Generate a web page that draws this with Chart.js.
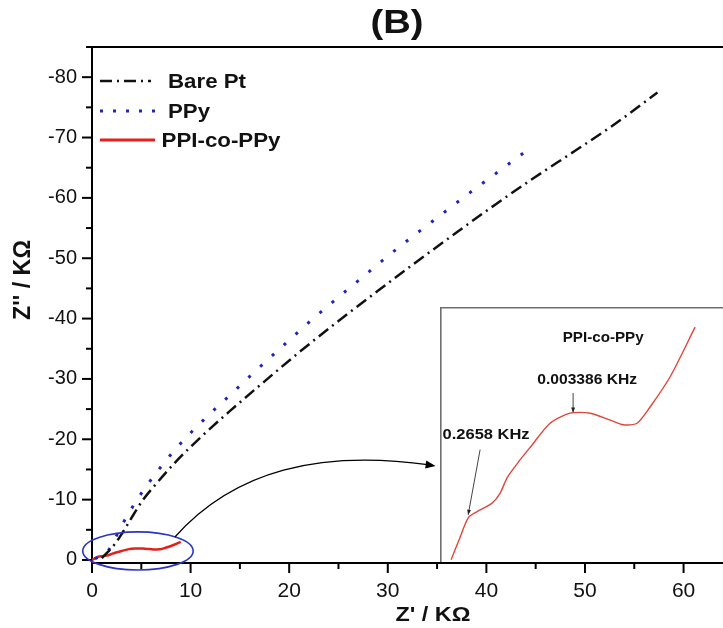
<!DOCTYPE html>
<html>
<head>
<meta charset="utf-8">
<script src="https://cdn.jsdelivr.net/npm/chart.js@4"></script>
<style>
html, body { margin: 0; padding: 0; background: #fff; }
#wrap { position: relative; width: 723px; height: 628px; }
#main { position: absolute; left: 0; top: 0; }
#inset { position: absolute; left: 440px; top: 307px; }
</style>
</head>
<body>
<div id="wrap">
<canvas id="main" width="723" height="628"></canvas>
<canvas id="inset" width="283" height="255"></canvas>
</div>
<script>
// values: Z' (KOhm) and Z'' (KOhm)
const bareX = [1.0, 2.3, 3.2, 4.2, 5.1, 6.5, 8.4, 11, 14, 17.5, 21, 25, 29, 33, 37, 41, 45, 49, 53, 57.35];
const bareY = [-0.3, -2.6, -4.8, -7.5, -9.8, -12.6, -16.1, -20.3, -24.7, -29.6, -34.4, -39.6, -44.6, -49.5, -54.3, -59.0, -63.5, -67.8, -72.2, -77.45];

const ppyX = [0.3, 1.62, 3.04, 4.66, 6.59, 8.71, 11.25, 13.98, 16.51, 19.25, 21.88, 24.52, 27.25, 29.89, 32.52, 35.16, 37.79, 40.43, 43.16, 44.48];
const ppyY = [-0.2, -1.5, -5.8, -10.2, -14.6, -18.8, -23.1, -27.3, -31.2, -35.3, -39.2, -42.9, -46.6, -50.2, -53.6, -56.9, -60.2, -63.4, -66.7, -68.3];

const ppiX = [0, 0.30, 0.63, 0.96, 1.51, 1.81, 2.07, 2.55, 2.92, 3.65, 4.39, 5.13, 5.87, 6.35, 6.86, 7.34, 8.08, 9.0];
const ppiY = [0, -0.26, -0.54, -0.62, -0.73, -0.86, -1.06, -1.29, -1.45, -1.76, -1.89, -1.89, -1.80, -1.74, -1.76, -1.97, -2.36, -3.0];

const xTicks = [0, 10, 20, 30, 40, 50, 60];
const yTicks = [0, -10, -20, -30, -40, -50, -60, -70, -80];

const seriesNames = ['Bare Pt', 'PPy', 'PPI-co-PPy'];
const freqLabels = ['0.2658 KHz', '0.003386 KHz'];

// zoomed region (data units) and the curved pointer to the inset
const zoomEllipse = { x: 4.66, y: -1.5, rx: 5.6, ry: 3.15 };
const zoomArrow = [[8.41, -3.81], [14.49, -14.93], [23.10, -18.24], [34.85, -15.59]];

const TXT = "'Liberation Sans', Arial, sans-serif";

function toPoints(xs, ys) {
    return xs.map((x, i) => ({ x: x, y: ys[i] }));
}

// draws text centred at (cx, cy), stretched to the given width
function fitText(ctx, text, cx, cy, font, width, rot) {
    ctx.save();
    ctx.font = font;
    const w = ctx.measureText(text).width;
    ctx.translate(cx, cy);
    if (rot) ctx.rotate(rot);
    ctx.scale(width / w, 1);
    ctx.textAlign = 'center';
    ctx.textBaseline = 'middle';
    ctx.fillStyle = '#111';
    ctx.fillText(text, 0, 0);
    ctx.restore();
}

function arrowHead(ctx, x, y, ang, len, half) {
    ctx.beginPath();
    ctx.moveTo(x, y);
    ctx.lineTo(x - len * Math.cos(ang) + half * Math.sin(ang), y - len * Math.sin(ang) - half * Math.cos(ang));
    ctx.lineTo(x - len * Math.cos(ang) - half * Math.sin(ang), y - len * Math.sin(ang) + half * Math.cos(ang));
    ctx.closePath();
    ctx.fill();
}

const mainDeco = {
    id: 'mainDeco',
    afterDraw(chart) {
        const ctx = chart.ctx;
        const a = chart.chartArea;
        const sx = chart.scales.x, sy = chart.scales.y;
        ctx.save();
        ctx.strokeStyle = '#000';
        ctx.fillStyle = '#000';

        // top frame
        ctx.lineWidth = 2;
        ctx.beginPath();
        ctx.moveTo(a.left - 1, a.top);
        ctx.lineTo(a.right, a.top);
        ctx.stroke();

        // tick marks, major every 10, minor every 5
        ctx.lineWidth = 2;
        sx.ticks.forEach(t => {
            const px = sx.getPixelForValue(t.value);
            const len = t.value % 10 === 0 ? 10 : 6;
            ctx.beginPath();
            ctx.moveTo(px, a.bottom);
            ctx.lineTo(px, a.bottom + len);
            ctx.stroke();
        });
        sy.ticks.forEach(t => {
            const py = sy.getPixelForValue(t.value);
            const len = t.value % 10 === 0 ? 10 : 6;
            ctx.beginPath();
            ctx.moveTo(a.left, py);
            ctx.lineTo(a.left - len, py);
            ctx.stroke();
        });

        // ellipse around the PPI-co-PPy curve
        const ecx = sx.getPixelForValue(zoomEllipse.x);
        const ecy = sy.getPixelForValue(zoomEllipse.y);
        const erx = Math.abs(sx.getPixelForValue(zoomEllipse.x + zoomEllipse.rx) - ecx);
        const ery = Math.abs(sy.getPixelForValue(zoomEllipse.y + zoomEllipse.ry) - ecy);
        ctx.strokeStyle = '#2b36c4';
        ctx.lineWidth = 1.6;
        ctx.beginPath();
        ctx.ellipse(ecx, ecy, erx, ery, 0, 0, Math.PI * 2);
        ctx.stroke();

        // curved pointer to inset
        const p = zoomArrow.map(d => [sx.getPixelForValue(d[0]), sy.getPixelForValue(d[1])]);
        ctx.strokeStyle = '#000';
        ctx.lineWidth = 1.2;
        ctx.beginPath();
        ctx.moveTo(p[0][0], p[0][1]);
        ctx.bezierCurveTo(p[1][0], p[1][1], p[2][0], p[2][1], p[3][0] - 6, p[3][1] - 1);
        ctx.stroke();
        arrowHead(ctx, p[3][0], p[3][1], Math.atan2(p[3][1] - p[2][1], p[3][0] - p[2][0]), 10, 4);

        // legend
        const ly = [81, 111, 140];
        ctx.lineWidth = 2.5;
        ctx.strokeStyle = '#111';
        ctx.setLineDash([12, 5, 2, 5]);
        ctx.beginPath(); ctx.moveTo(100, ly[0]); ctx.lineTo(151, ly[0]); ctx.stroke();
        ctx.strokeStyle = '#2323b8';
        ctx.lineWidth = 3;
        ctx.setLineDash([3, 10]);
        ctx.beginPath(); ctx.moveTo(100, ly[1]); ctx.lineTo(156, ly[1]); ctx.stroke();
        ctx.setLineDash([]);
        ctx.strokeStyle = '#e3211c';
        ctx.beginPath(); ctx.moveTo(100, ly[2]); ctx.lineTo(155, ly[2]); ctx.stroke();
        const lf = 'bold 21px ' + TXT;
        fitText(ctx, seriesNames[0], 207, ly[0] + 1, lf, 78);
        fitText(ctx, seriesNames[1], 189, ly[1] + 1, lf, 42);
        fitText(ctx, seriesNames[2], 221, ly[2] + 1, lf, 119);

        // titles
        fitText(ctx, '(B)', 397, 24, 'bold 34px ' + TXT, 53);
        fitText(ctx, "Z' / K\u03A9", 433, 615, 'bold 21px ' + TXT, 75);
        fitText(ctx, "Z'' / K\u03A9", 24, 280, 'bold 23px ' + TXT, 80, -Math.PI / 2);
        ctx.restore();
    }
};

const mainChart = new Chart(document.getElementById('main'), {
    type: 'line',
    data: {
        datasets: [
            {
                label: seriesNames[0],
                data: toPoints(bareX, bareY),
                borderColor: '#111',
                borderWidth: 2.5,
                borderDash: [12, 5, 2, 5],
                pointRadius: 0,
                cubicInterpolationMode: 'monotone'
            },
            {
                label: seriesNames[1],
                data: toPoints(ppyX, ppyY),
                borderColor: '#2323b8',
                borderWidth: 3,
                borderDash: [3, 13],
                pointRadius: 0,
                cubicInterpolationMode: 'monotone'
            },
            {
                label: seriesNames[2],
                data: toPoints(ppiX, ppiY),
                borderColor: '#e3211c',
                borderWidth: 2.5,
                pointRadius: 0,
                tension: 0.3
            }
        ]
    },
    options: {
        responsive: false,
        animation: false,
        layout: { padding: { top: 47, left: 0, right: 0, bottom: 0 } },
        plugins: { legend: { display: false }, tooltip: { enabled: false } },
        scales: {
            x: {
                type: 'linear',
                min: 0,
                max: 64,
                afterFit: s => { s.height = 65; },
                grid: { display: false, drawTicks: false },
                border: { display: true, color: '#000', width: 2 },
                ticks: {
                    stepSize: 5,
                    includeBounds: false,
                    autoSkip: false,
                    maxRotation: 0,
                    padding: 16,
                    color: '#111',
                    font: { family: TXT, size: 21 },
                    callback: v => xTicks.includes(v) ? String(v) : ''
                }
            },
            y: {
                type: 'linear',
                reverse: true,
                min: -85,
                max: 0.5,
                afterFit: s => { s.width = 92; },
                grid: { display: false, drawTicks: false },
                border: { display: true, color: '#000', width: 2 },
                ticks: {
                    stepSize: 5,
                    includeBounds: false,
                    autoSkip: false,
                    padding: 15,
                    color: '#111',
                    font: { family: TXT, size: 20 },
                    callback: v => yTicks.includes(v) ? String(v) : ''
                }
            }
        }
    },
    plugins: [mainDeco]
});

// inset: zoom of the PPI-co-PPy curve
const insetNote = { name: [5.61, -2.86], high: [5.02, -2.32], low: [1.29, -1.61] };
const insetArrows = [[[4.5, -2.15], [4.5, -1.90]], [[1.07, -1.42], [0.63, -0.58]]];

const insetDeco = {
    id: 'insetDeco',
    beforeDraw(chart) {
        const ctx = chart.ctx;
        ctx.save();
        ctx.fillStyle = '#fff';
        ctx.fillRect(0, 0, chart.width, chart.height);
        ctx.restore();
    },
    afterDraw(chart) {
        const ctx = chart.ctx;
        const sx = chart.scales.x, sy = chart.scales.y;
        ctx.save();
        ctx.strokeStyle = '#6e6e6e';
        ctx.lineWidth = 1.6;
        ctx.beginPath();
        ctx.moveTo(0.8, chart.height);
        ctx.lineTo(0.8, 0.8);
        ctx.lineTo(chart.width, 0.8);
        ctx.stroke();

        const pf = 'bold 15px ' + TXT;
        fitText(ctx, seriesNames[2], sx.getPixelForValue(insetNote.name[0]), sy.getPixelForValue(insetNote.name[1]), pf, 81);
        fitText(ctx, freqLabels[1], sx.getPixelForValue(insetNote.high[0]), sy.getPixelForValue(insetNote.high[1]), pf, 100);
        fitText(ctx, freqLabels[0], sx.getPixelForValue(insetNote.low[0]), sy.getPixelForValue(insetNote.low[1]), pf, 87);

        ctx.strokeStyle = '#444';
        ctx.fillStyle = '#222';
        ctx.lineWidth = 1;
        insetArrows.forEach(ar => {
            const x0 = sx.getPixelForValue(ar[0][0]), y0 = sy.getPixelForValue(ar[0][1]);
            const x1 = sx.getPixelForValue(ar[1][0]), y1 = sy.getPixelForValue(ar[1][1]);
            ctx.beginPath();
            ctx.moveTo(x0, y0);
            ctx.lineTo(x1, y1);
            ctx.stroke();
            arrowHead(ctx, x1, y1, Math.atan2(y1 - y0, x1 - x0), 5, 2);
        });
        ctx.restore();
    }
};

const insetChart = new Chart(document.getElementById('inset'), {
    type: 'line',
    data: {
        datasets: [{
            label: seriesNames[2],
            data: toPoints(ppiX, ppiY),
            borderColor: '#e0463c',
            borderWidth: 1.4,
            pointRadius: 0,
            tension: 0.25
        }]
    },
    options: {
        responsive: false,
        animation: false,
        layout: { padding: 0 },
        plugins: { legend: { display: false }, tooltip: { enabled: false } },
        scales: {
            x: { type: 'linear', display: false, min: -0.41, max: 10.03 },
            y: { type: 'linear', display: false, reverse: true, min: -3.26, max: 0.03 }
        }
    },
    plugins: [insetDeco]
});
</script>
</body>
</html>
